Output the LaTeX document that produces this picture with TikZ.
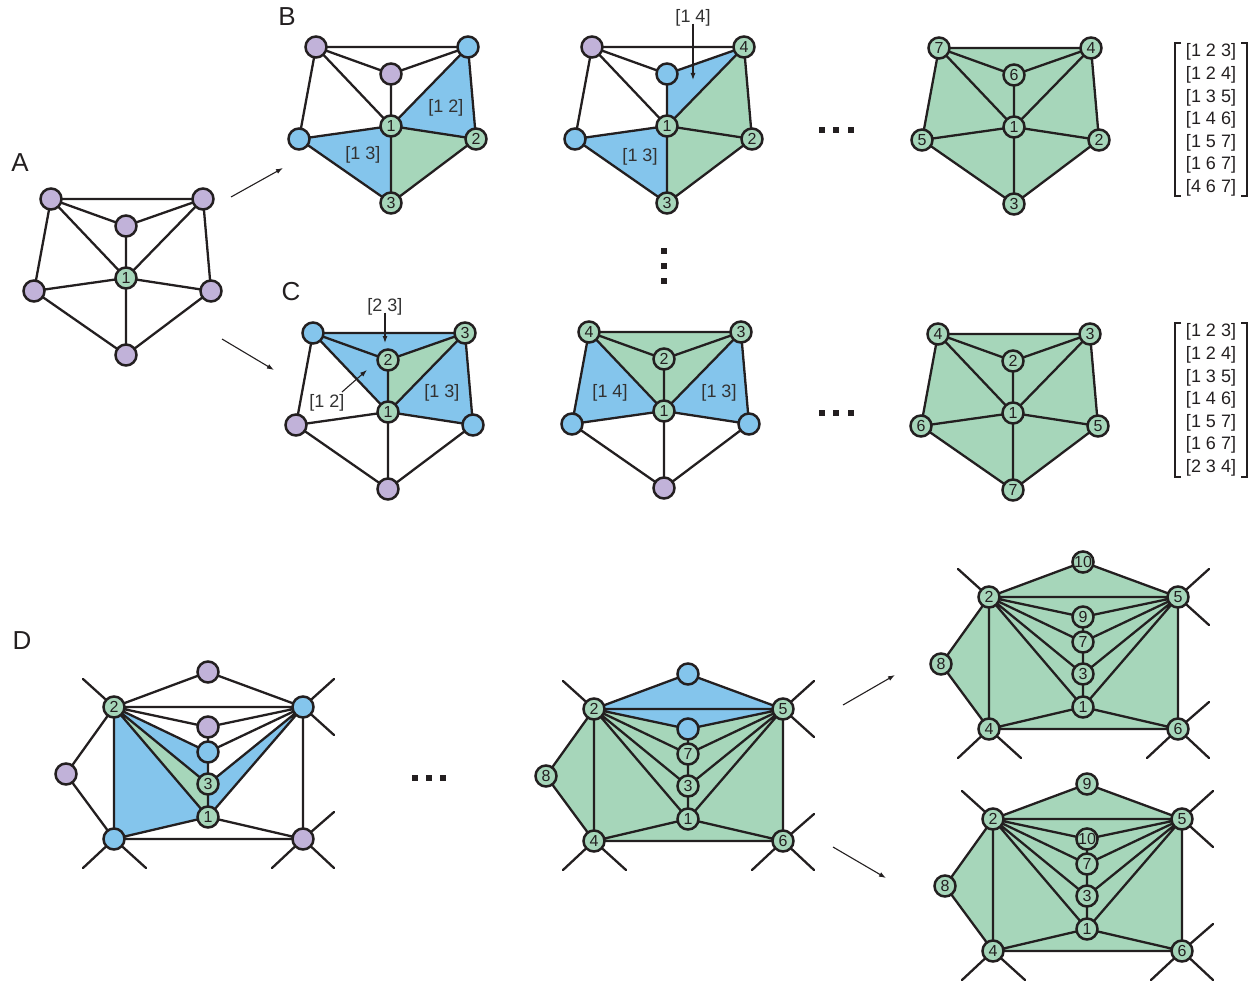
\documentclass[tikz,border=0pt]{standalone}
\usepackage{fontspec}
\setmainfont{Liberation Sans}
\usetikzlibrary{arrows.meta}
\definecolor{purp}{RGB}{193,178,217}
\definecolor{blu}{RGB}{132,197,236}
\definecolor{grn}{RGB}{166,214,186}
\definecolor{linec}{RGB}{35,31,32}
\definecolor{labc}{RGB}{50,50,50}
\pgfdeclarelayer{fills}
\pgfdeclarelayer{edges}
\pgfsetlayers{fills,edges,main}
\newcommand\pentedges[1]{%
\begin{pgfonlayer}{edges}
\draw[lnk] (#1tl.center)--(#1tr.center) (#1tl.center)--(#1it.center) (#1it.center)--(#1tr.center)
 (#1tl.center)--(#1c.center) (#1it.center)--(#1c.center) (#1tr.center)--(#1c.center)
 (#1tl.center)--(#1l.center) (#1tr.center)--(#1r.center) (#1l.center)--(#1c.center)
 (#1r.center)--(#1c.center) (#1l.center)--(#1bo.center) (#1r.center)--(#1bo.center)
 (#1c.center)--(#1bo.center);
\end{pgfonlayer}}
\newcommand\dedges[1]{%
\begin{pgfonlayer}{edges}
\draw[lnk] (#1n2.center)--(#1T.center)--(#1n5.center) (#1n2.center)--(#1n5.center)
 (#1n2.center)--(#1a.center)--(#1n5.center) (#1n2.center)--(#1b.center)--(#1n5.center)
 (#1n2.center)--(#1n3.center)--(#1n5.center) (#1n2.center)--(#1n1.center)--(#1n5.center)
 (#1a.center)--(#1b.center)--(#1n3.center)--(#1n1.center)
 (#1n2.center)--(#1n8.center)--(#1n4.center) (#1n2.center)--(#1n4.center)
 (#1n4.center)--(#1n1.center)--(#1n6.center) (#1n4.center)--(#1n6.center)
 (#1n5.center)--(#1n6.center)
 (#1n2.center)--(#1s2) (#1n5.center)--(#1s5a) (#1n5.center)--(#1s5b)
 (#1n4.center)--(#1s4a) (#1n4.center)--(#1s4b)
 (#1n6.center)--(#1s6a) (#1n6.center)--(#1s6b) (#1n6.center)--(#1s6c);
\end{pgfonlayer}}
\newcommand\dstubs[1]{%
\coordinate (#1s2) at (-125,-138);
\coordinate (#1s5a) at (126,-138); \coordinate (#1s5b) at (126,-82);
\coordinate (#1s4a) at (-125,51); \coordinate (#1s4b) at (-62,51);
\coordinate (#1s6a) at (126,-5); \coordinate (#1s6b) at (64,51); \coordinate (#1s6c) at (126,51);}
\begin{document}
\begin{tikzpicture}[x=1pt,y=-1pt,
  lnk/.style={draw=linec,line width=2.3pt,line cap=round},
  vtx/.style={circle,draw=linec,line width=2.5pt,minimum size=21pt,inner sep=0pt,
    font=\fontsize{16}{16}\selectfont,text=linec},
  pu/.style={vtx,fill=purp}, bl/.style={vtx,fill=blu}, gr/.style={vtx,fill=grn},
  lab/.style={font=\fontsize{18}{18}\selectfont,text=labc,inner sep=0pt},
  big/.style={font=\fontsize{26}{26}\selectfont,text=linec,inner sep=0pt},
  arr/.style={draw=linec,line width=1.1pt,-{Latex[length=7pt,width=5pt]}},
  dotsq/.style={fill=linec,minimum size=6pt,inner sep=0pt,rectangle},
  mat/.style={font=\fontsize{18}{22.6}\selectfont,text=linec,align=center,inner sep=0pt},
  brk/.style={draw=linec,line width=1.1pt}]
\useasboundingbox (0,0) rectangle (1260,984);

% letters
\node[big] (LA) at (20,163) {A};
\node[big] (LB) at (287,17) {B};
\node[big] (LC) at (291,292) {C};
\node[big] (LD) at (22,641) {D};

% ---------- A ----------
\begin{scope}[shift={(126,278)}]
\node[pu] (atl) at (-75,-79) {};
\node[pu] (atr) at (77,-79) {};
\node[pu] (ait) at (0,-52) {};
\node[gr] (ac) at (0,0) {1};
\node[pu] (al) at (-92,13) {};
\node[pu] (ar) at (85,13) {};
\node[pu] (abo) at (0,77) {};
\end{scope}
\pentedges{a}

% ---------- B1 ----------
\begin{scope}[shift={(391,126)}]
\node[pu] (btl) at (-75,-79) {};
\node[bl] (btr) at (77,-79) {};
\node[pu] (bit) at (0,-52) {};
\node[gr] (bc) at (0,0) {1};
\node[bl] (bl) at (-92,13) {};
\node[gr] (br) at (85,13) {2};
\node[gr] (bbo) at (0,77) {3};
\node[lab] (bL12) at (55,-18) {[1 2]};
\node[lab] (bL13) at (-28,29) {[1 3]};
\end{scope}
\begin{pgfonlayer}{fills}
\fill[blu] (bc.center)--(btr.center)--(br.center)--cycle;
\fill[blu] (bl.center)--(bc.center)--(bbo.center)--cycle;
\fill[grn] (bc.center)--(br.center)--(bbo.center)--cycle;
\end{pgfonlayer}
\pentedges{b}

% ---------- B2 ----------
\begin{scope}[shift={(667,126)}]
\node[pu] (ctl) at (-75,-79) {};
\node[gr] (ctr) at (77,-79) {4};
\node[bl] (cit) at (0,-52) {};
\node[gr] (cc) at (0,0) {1};
\node[bl] (cl) at (-92,13) {};
\node[gr] (cr) at (85,13) {2};
\node[gr] (cbo) at (0,77) {3};
\node[lab] (cL13) at (-27,31) {[1 3]};
\node[lab] (cL14) at (26,-108) {[1 4]};
\coordinate (cA14) at (26,-46);
\end{scope}
\begin{pgfonlayer}{fills}
\fill[blu] (cl.center)--(cc.center)--(cbo.center)--cycle;
\fill[blu] (cc.center)--(cit.center)--(ctr.center)--cycle;
\fill[grn] (cc.center)--(ctr.center)--(cr.center)--(cbo.center)--cycle;
\end{pgfonlayer}
\pentedges{c}
\draw[arr] (cL14.south)++(0,-3) -- (cA14);

% ---------- B3 ----------
\begin{scope}[shift={(1014,127)}]
\node[gr] (dtl) at (-75,-79) {7};
\node[gr] (dtr) at (77,-79) {4};
\node[gr] (dit) at (0,-52) {6};
\node[gr] (dc) at (0,0) {1};
\node[gr] (dl) at (-92,13) {5};
\node[gr] (dr) at (85,13) {2};
\node[gr] (dbo) at (0,77) {3};
\end{scope}
\begin{pgfonlayer}{fills}
\fill[grn] (dtl.center)--(dtr.center)--(dr.center)--(dbo.center)--(dl.center)--cycle;
\end{pgfonlayer}
\pentedges{d}

% ---------- C1 ----------
\begin{scope}[shift={(388,412)}]
\node[bl] (etl) at (-75,-79) {};
\node[gr] (etr) at (77,-79) {3};
\node[gr] (eit) at (0,-52) {2};
\node[gr] (ec) at (0,0) {1};
\node[pu] (el) at (-92,13) {};
\node[bl] (er) at (85,13) {};
\node[pu] (ebo) at (0,77) {};
\node[lab] (eL23) at (-3,-105) {[2 3]};
\node[lab] (eL12) at (-61,-9) {[1 2]};
\node[lab] (eL13) at (54,-19) {[1 3]};
\coordinate (eA23) at (-3,-69);
\coordinate (eS12) at (-46,-20);
\coordinate (eA12) at (-21,-42);
\end{scope}
\begin{pgfonlayer}{fills}
\fill[blu] (etl.center)--(etr.center)--(eit.center)--cycle;
\fill[blu] (etl.center)--(eit.center)--(ec.center)--cycle;
\fill[grn] (eit.center)--(etr.center)--(ec.center)--cycle;
\fill[blu] (ec.center)--(etr.center)--(er.center)--cycle;
\end{pgfonlayer}
\pentedges{e}
\draw[arr] (eL23.south)++(0,-3) -- (eA23);
\draw[arr] (eS12) -- (eA12);

% ---------- C2 ----------
\begin{scope}[shift={(664,411)}]
\node[gr] (ftl) at (-75,-79) {4};
\node[gr] (ftr) at (77,-79) {3};
\node[gr] (fit) at (0,-52) {2};
\node[gr] (fc) at (0,0) {1};
\node[bl] (fl) at (-92,13) {};
\node[bl] (fr) at (85,13) {};
\node[pu] (fbo) at (0,77) {};
\node[lab] (fL14) at (-54,-18) {[1 4]};
\node[lab] (fL13) at (55,-18) {[1 3]};
\end{scope}
\begin{pgfonlayer}{fills}
\fill[grn] (ftl.center)--(ftr.center)--(fc.center)--cycle;
\fill[blu] (fl.center)--(ftl.center)--(fc.center)--cycle;
\fill[blu] (fc.center)--(ftr.center)--(fr.center)--cycle;
\end{pgfonlayer}
\pentedges{f}

% ---------- C3 ----------
\begin{scope}[shift={(1013,413)}]
\node[gr] (gtl) at (-75,-79) {4};
\node[gr] (gtr) at (77,-79) {3};
\node[gr] (git) at (0,-52) {2};
\node[gr] (gc) at (0,0) {1};
\node[gr] (gl) at (-92,13) {6};
\node[gr] (gr) at (85,13) {5};
\node[gr] (gbo) at (0,77) {7};
\end{scope}
\begin{pgfonlayer}{fills}
\fill[grn] (gtl.center)--(gtr.center)--(gr.center)--(gbo.center)--(gl.center)--cycle;
\end{pgfonlayer}
\pentedges{g}

% ---------- matrices ----------
\node[mat] (m1) at (1211,120) {{[1 2 3]}\\{[1 2 4]}\\{[1 3 5]}\\{[1 4 6]}\\{[1 5 7]}\\{[1 6 7]}\\{[4 6 7]}};
\draw[brk] (1181,43)--(1175,43)--(1175,196)--(1181,196);
\draw[brk] (1241,43)--(1247,43)--(1247,196)--(1241,196);
\node[mat] (m2) at (1211,400) {{[1 2 3]}\\{[1 2 4]}\\{[1 3 5]}\\{[1 4 6]}\\{[1 5 7]}\\{[1 6 7]}\\{[2 3 4]}};
\draw[brk] (1181,323)--(1175,323)--(1175,477)--(1181,477);
\draw[brk] (1241,323)--(1247,323)--(1247,477)--(1241,477);

% ---------- dots ----------
\foreach \x in {822,836,851} {\node[dotsq] at (\x,130) {}; \node[dotsq] at (\x,413) {};}
\foreach \y in {251,266,281} {\node[dotsq] at (664,\y) {};}
\foreach \x in {415,429,443} {\node[dotsq] at (\x,778) {};}

% ---------- arrows A->B, A->C ----------
\coordinate (ab1) at (231,197); \coordinate (ab2) at (283,168);
\coordinate (ac1) at (222,339); \coordinate (ac2) at (274,370);
\draw[arr] (ab1) -- (ab2);
\draw[arr] (ac1) -- (ac2);

% ---------- D1 ----------
\begin{scope}[shift={(208,817)}]
\node[gr] (hn2) at (-94,-110) {2};
\node[pu] (hT) at (0,-145) {};
\node[bl] (hn5) at (95,-110) {};
\node[pu] (ha) at (0,-90) {};
\node[bl] (hb) at (0,-65) {};
\node[gr] (hn3) at (0,-33) {3};
\node[gr] (hn1) at (0,0) {1};
\node[pu] (hn8) at (-142,-43) {};
\node[bl] (hn4) at (-94,22) {};
\node[pu] (hn6) at (95,22) {};
\dstubs{h}
\end{scope}
\begin{pgfonlayer}{fills}
\fill[blu] (hn2.center)--(hb.center)--(hn3.center)--cycle;
\fill[grn] (hn2.center)--(hn3.center)--(hn1.center)--cycle;
\fill[blu] (hn2.center)--(hn1.center)--(hn4.center)--cycle;
\fill[blu] (hn3.center)--(hn5.center)--(hn1.center)--cycle;
\end{pgfonlayer}
\dedges{h}

% ---------- D2 ----------
\begin{scope}[shift={(688,819)}]
\node[gr] (in2) at (-94,-110) {2};
\node[bl] (iT) at (0,-145) {};
\node[gr] (in5) at (95,-110) {5};
\node[bl] (ia) at (0,-90) {};
\node[gr] (ib) at (0,-65) {7};
\node[gr] (in3) at (0,-33) {3};
\node[gr] (in1) at (0,0) {1};
\node[gr] (in8) at (-142,-43) {8};
\node[gr] (in4) at (-94,22) {4};
\node[gr] (in6) at (95,22) {6};
\dstubs{i}
\end{scope}
\begin{pgfonlayer}{fills}
\fill[grn] (in2.center)--(ia.center)--(in5.center)--(in6.center)--(in4.center)--(in8.center)--cycle;
\fill[blu] (in2.center)--(iT.center)--(in5.center)--(ia.center)--cycle;
\end{pgfonlayer}
\dedges{i}

% ---------- D3 ----------
\begin{scope}[shift={(1083,707)}]
\node[gr] (jn2) at (-94,-110) {2};
\node[gr] (jT) at (0,-145) {10};
\node[gr] (jn5) at (95,-110) {5};
\node[gr] (ja) at (0,-90) {9};
\node[gr] (jb) at (0,-65) {7};
\node[gr] (jn3) at (0,-33) {3};
\node[gr] (jn1) at (0,0) {1};
\node[gr] (jn8) at (-142,-43) {8};
\node[gr] (jn4) at (-94,22) {4};
\node[gr] (jn6) at (95,22) {6};
\dstubs{j}
\end{scope}
\begin{pgfonlayer}{fills}
\fill[grn] (jn2.center)--(jT.center)--(jn5.center)--(jn6.center)--(jn4.center)--(jn8.center)--cycle;
\end{pgfonlayer}
\dedges{j}

% ---------- D4 ----------
\begin{scope}[shift={(1087,929)}]
\node[gr] (kn2) at (-94,-110) {2};
\node[gr] (kT) at (0,-145) {9};
\node[gr] (kn5) at (95,-110) {5};
\node[gr] (ka) at (0,-90) {10};
\node[gr] (kb) at (0,-65) {7};
\node[gr] (kn3) at (0,-33) {3};
\node[gr] (kn1) at (0,0) {1};
\node[gr] (kn8) at (-142,-43) {8};
\node[gr] (kn4) at (-94,22) {4};
\node[gr] (kn6) at (95,22) {6};
\dstubs{k}
\end{scope}
\begin{pgfonlayer}{fills}
\fill[grn] (kn2.center)--(kT.center)--(kn5.center)--(kn6.center)--(kn4.center)--(kn8.center)--cycle;
\end{pgfonlayer}
\dedges{k}

% ---------- arrows D ----------
\coordinate (dd1) at (843,705); \coordinate (dd2) at (895,675);
\coordinate (de1) at (833,847); \coordinate (de2) at (886,878);
\draw[arr] (dd1) -- (dd2);
\draw[arr] (de1) -- (de2);
\end{tikzpicture}
\end{document}
